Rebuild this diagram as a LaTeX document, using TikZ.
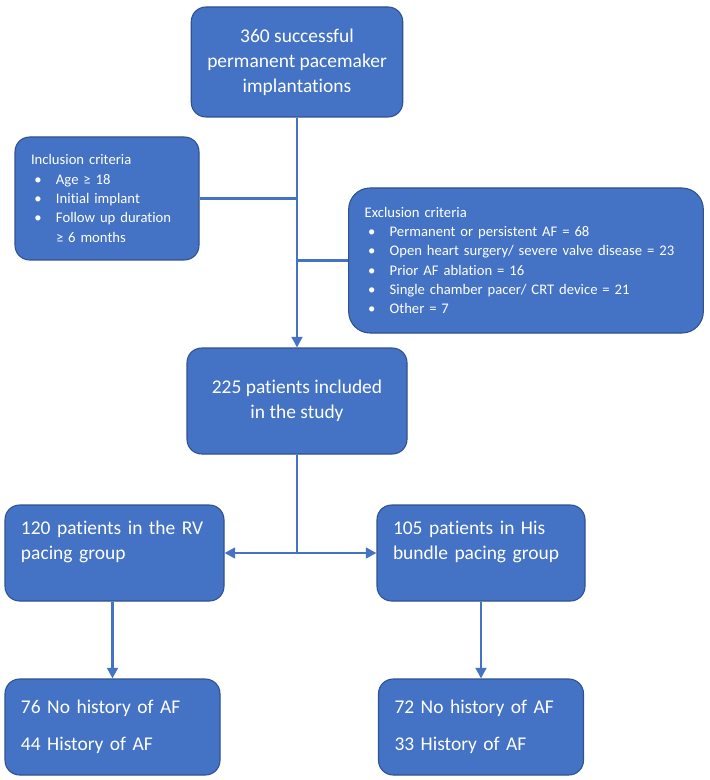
\documentclass[tikz,border=0pt]{standalone}
\usepackage{fontspec}
\setmainfont[Ligatures=NoCommon]{Carlito}
\usetikzlibrary{arrows.meta,positioning}
\definecolor{boxblue}{HTML}{4472C4}
\definecolor{edgeblue}{HTML}{2F528F}
\newcommand{\blt}{\makebox[18.75pt][l]{\hspace{2.5pt}\textbullet}}
\newcommand{\bltgap}{\makebox[18.75pt]{}}

\begin{document}
\begin{tikzpicture}[x=0.75pt,y=-0.75pt,
    box/.style={draw=edgeblue,line width=0.8pt,fill=boxblue,rounded corners=11pt,text=white,
      font=\fontsize{14.6}{18.75}\selectfont,inner xsep=12pt,inner ysep=0pt},
    small/.style={font=\fontsize{11}{14.5}\selectfont},
    link/.style={draw=boxblue,line width=2.2pt},
    arr/.style={link,-{Triangle[length=8pt,width=8pt]}}]
  \useasboundingbox (0,0) rectangle (709,780);

  \node[box,align=center,minimum width=157.5pt,minimum height=82.5pt] (start) at (297,62)
    {360 successful\\permanent pacemaker\\implantations};
  \node[box,small,align=left,text width=114pt,minimum width=138pt,minimum height=92.25pt] (incl) at (107,198.5)
    {Inclusion criteria\\
     \blt Age ≥ 18\\
     \blt Initial implant\\
     \blt Follow up duration\\
     \bltgap ≥ 6 months};
  \node[box,small,align=left,rounded corners=16pt,text width=242pt,minimum width=264pt,minimum height=108.75pt] (excl) at (526,260.5)
    {Exclusion criteria\\
     \blt Permanent or persistent AF = 68\\
     \blt Open heart surgery/ severe valve disease = 23\\
     \blt Prior AF ablation = 16\\
     \blt Single chamber pacer/ CRT device = 21\\
     \blt Other = 7};
  \node[box,align=center,minimum width=165pt,minimum height=79.5pt] (study) at (297,401)
    {225 patients included\\in the study};
  \node[box,align=left,text width=140.25pt,minimum width=164.25pt,minimum height=72pt] (rv) at (114.5,553)
    {120 patients in the RV\\pacing group\\\mbox{}};
  \node[box,align=left,text width=132pt,minimum width=156pt,minimum height=72pt] (his) at (481,553)
    {105 patients in His\\bundle pacing group\\\mbox{}};
  \node[box,align=left,text width=137.25pt,minimum width=161.25pt,minimum height=72pt] (rvaf) at (112.5,727)
    {76 No history of AF\\[9pt]44 History of AF};
  \node[box,align=left,text width=129.75pt,minimum width=153.75pt,minimum height=72pt] (hisaf) at (481,727)
    {72 No history of AF\\[9pt]33 History of AF};

  \coordinate (fork) at (297,553);

  \draw[arr] (start) -- (study);
  \draw[link] (incl) -- (incl -| start);
  \draw[link] (excl) -- (excl -| start);
  \draw[link] (study) -- (fork);
  \draw[arr] (fork) -- (rv);
  \draw[arr] (fork) -- (his);
  \draw[arr] (rv.south -| rvaf) -- (rvaf);
  \draw[arr] (his) -- (hisaf);
\end{tikzpicture}
\end{document}
